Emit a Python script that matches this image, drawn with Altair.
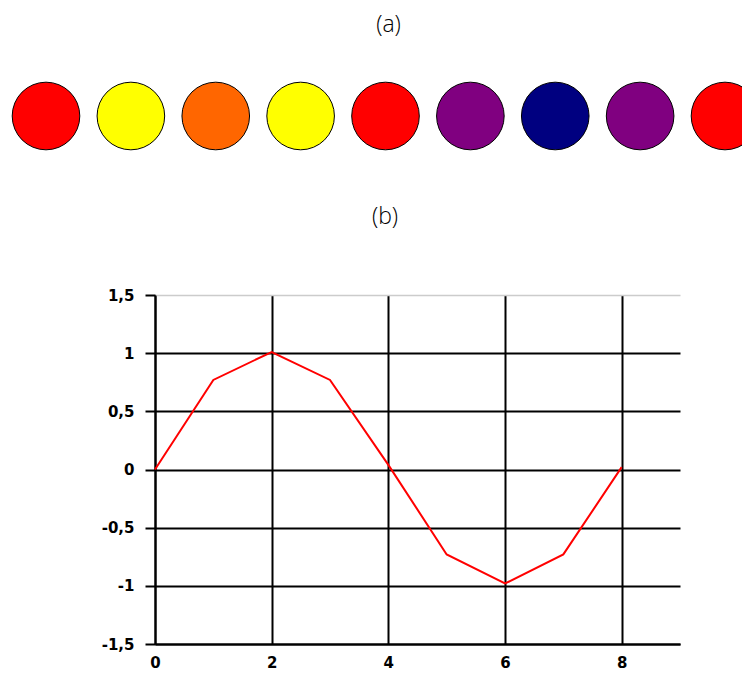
import altair as alt
import pandas as pd

# (a) row of coloured circles
circle_idx = [0, 1, 2, 3, 4, 5, 6, 7, 8]
circle_colors = ["#ff0000", "#ffff00", "#ff6600", "#ffff00", "#ff0000",
                 "#800080", "#000080", "#800080", "#ff0000"]

# (b) line values
x_vals = [0, 1, 2, 3, 4, 5, 6, 7, 8]
y_vals = [0.0, 0.77, 1.01, 0.77, 0.04, -0.73, -0.98, -0.73, 0.02]

x_ticks = [0, 2, 4, 6, 8]
y_ticks = [-1.5, -1, -0.5, 0, 0.5, 1, 1.5]

circ_df = pd.DataFrame({"i": circle_idx, "c": circle_colors})
line_df = pd.DataFrame({"x": x_vals, "y": y_vals})
spacer_df = pd.DataFrame({"s": [0]})

title_font = dict(font="Open Sans", fontSize=23, fontWeight=300, color="black",
                  anchor="middle", frame="group")

top = alt.Chart(
    circ_df,
    title=alt.TitleParams("(a)", dx=7.5, offset=8, **title_font),
).mark_circle(size=4570, opacity=1, stroke="black", strokeWidth=1, clip=True).encode(
    x=alt.X("i:Q", scale=alt.Scale(domain=[0, 8], range=[35, 714]), axis=None),
    y=alt.value(71),
    fill=alt.Fill("c:N", scale=None, legend=None),
).properties(width=740, height=161)

label_style = dict(labelFont="DejaVu Sans", labelFontWeight="bold",
                   labelFontSize=15, labelColor="black")

spacer = alt.Chart(spacer_df).mark_point(opacity=0, size=0, strokeWidth=0).encode(
    x=alt.X("s:Q", axis=None), y=alt.Y("s:Q", axis=None)
).properties(width=1, height=1)

bottom = alt.Chart(
    line_df,
    title=alt.TitleParams("(b)", dx=-32.5, offset=59, **title_font),
).mark_line(color="#ff0000", strokeWidth=2).encode(
    x=alt.X("x:Q", scale=alt.Scale(domain=[0, 9], nice=False, zero=False),
            axis=alt.Axis(values=x_ticks, ticks=False, tickSize=0, labelPadding=11,
                          domainColor="black", domainWidth=2, grid=True,
                          gridColor="black", gridWidth=2, gridOpacity=1,
                          title=None, labelAngle=0, labelFlush=False, **label_style)),
    y=alt.Y("y:Q", scale=alt.Scale(domain=[-1.5, 1.5], nice=False),
            axis=alt.Axis(values=y_ticks, tickSize=10, tickWidth=2, tickColor="black",
                          labelPadding=11, minExtent=143,
                          labelExpr="replace(toString(datum.value), '.', ',')",
                          domainColor="black", domainWidth=2, grid=True,
                          gridColor={"condition": {"test": "datum.value === 1.5", "value": "#cccccc"}, "value": "black"},
                          gridWidth={"condition": {"test": "datum.value === 1.5", "value": 1.5}, "value": 2},
                          gridOpacity=1, title=None, labelFlush=False, **label_style)),
).properties(width=525, height=349)

lower = alt.hconcat(spacer, bottom, spacing=0)

chart = alt.concat(top, lower, columns=1, spacing=0, align="none").properties(
    padding={"left": 3, "top": 6, "right": -9, "bottom": 0}
).configure_view(stroke=None)

chart.save("out.html", embed_options={"renderer": "svg", "actions": False})
